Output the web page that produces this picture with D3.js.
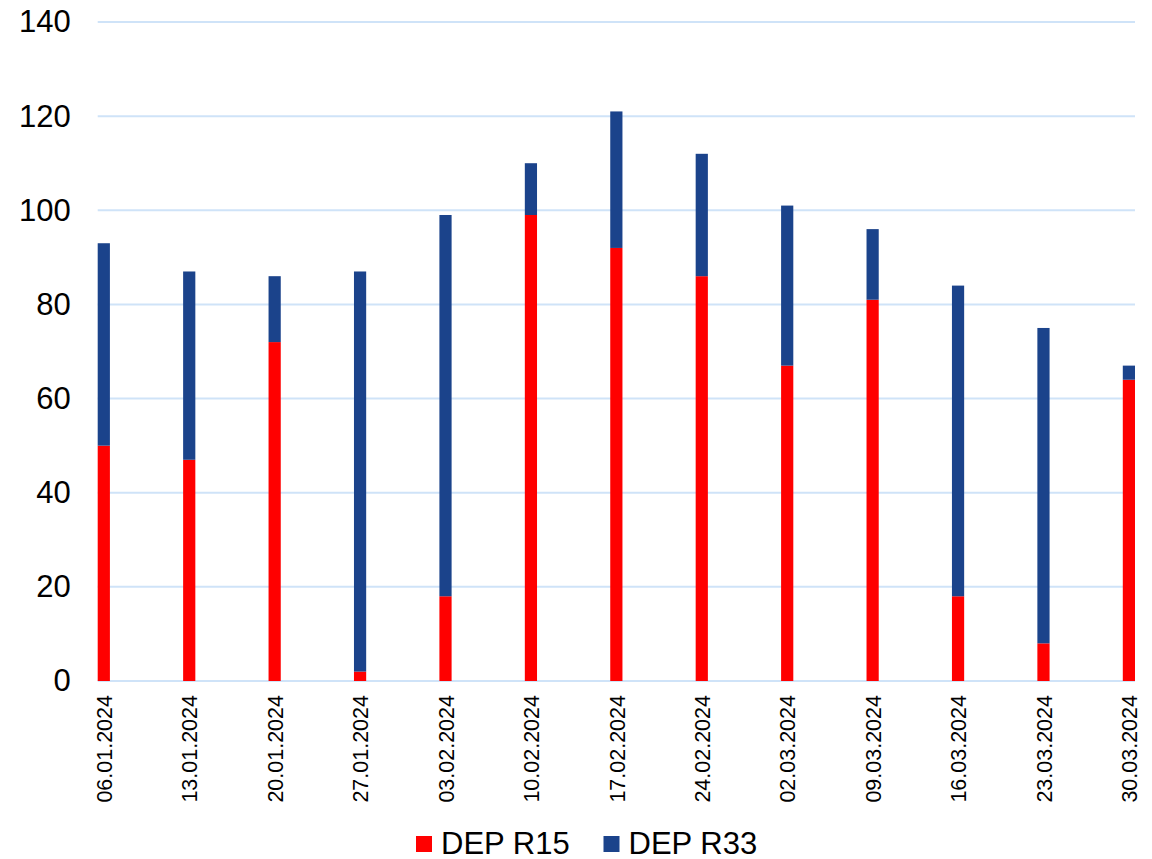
<!DOCTYPE html>
<html>
<head>
<meta charset="utf-8">
<script src="https://cdn.jsdelivr.net/npm/d3@7"></script>
<style>
  html, body { margin: 0; padding: 0; background: #fff; }
  svg { display: block; font-family: "Liberation Sans", Arial, sans-serif; }
</style>
</head>
<body>
<svg id="chart" width="1152" height="859"></svg>
<script>
// Weekly counts per department (week ending dates)
const weeks = ["06.01.2024", "13.01.2024", "20.01.2024", "27.01.2024", "03.02.2024", "10.02.2024",
               "17.02.2024", "24.02.2024", "02.03.2024", "09.03.2024", "16.03.2024", "23.03.2024", "30.03.2024"];
const depR15 = [50, 47, 72, 2, 18, 99, 92, 86, 67, 81, 18, 8, 64];
const depR33 = [43, 40, 14, 85, 81, 11, 29, 26, 34, 15, 66, 67, 3];
const seriesNames = ["DEP R15", "DEP R33"];
const yTicks = [0, 20, 40, 60, 80, 100, 120, 140];

const colors = ["#ff0000", "#1b438b"];
const gridColor = "#cfe3f8";

const parse = d3.utcParse("%d.%m.%Y");
const fmt = d3.utcFormat("%d.%m.%Y");
const dates = weeks.map(parse);
const rows = dates.map((d, i) => ({ date: d, "DEP R15": depR15[i], "DEP R33": depR33[i] }));

const plot = { left: 97.7, right: 1135, top: 22, bottom: 681 };
const svg = d3.select("#chart");

// Date axis: each bar spans one day, centred on its date
const halfDay = 12 * 3600 * 1000;
const x = d3.scaleUtc()
  .domain([new Date(+dates[0] - halfDay), new Date(+dates[dates.length - 1] + halfDay)])
  .range([plot.left, plot.right]);
const dayWidth = x(d3.utcDay.offset(dates[0], 1)) - x(dates[0]);

const y = d3.scaleLinear().domain([0, 140]).range([plot.bottom, plot.top]);

// Horizontal gridlines
svg.append("g")
  .selectAll("line")
  .data(yTicks)
  .join("line")
  .attr("x1", plot.left)
  .attr("x2", plot.right)
  .attr("y1", d => y(d))
  .attr("y2", d => y(d))
  .attr("stroke", gridColor)
  .attr("stroke-width", 2);

// Y axis labels
const yAxis = svg.append("g")
  .attr("transform", `translate(${plot.left},0)`)
  .call(d3.axisLeft(y).tickValues(yTicks).tickSize(0).tickPadding(27).tickFormat(d3.format("d")));
yAxis.select(".domain").remove();
yAxis.selectAll("text")
  .attr("font-size", 31)
  .attr("font-family", "Liberation Sans, Arial, sans-serif")
  .attr("fill", "#000");

// Stacked bars
const stack = d3.stack().keys(seriesNames);
const layers = stack(rows);

svg.append("g")
  .selectAll("g")
  .data(layers)
  .join("g")
  .attr("fill", (d, i) => colors[i])
  .selectAll("rect")
  .data(d => d)
  .join("rect")
  .attr("x", d => x(d.data.date) - dayWidth / 2)
  .attr("width", dayWidth)
  .attr("y", d => y(d[1]))
  .attr("height", d => y(d[0]) - y(d[1]));

// X axis labels (rotated dates)
const xAxis = svg.append("g")
  .attr("transform", `translate(0,${plot.bottom})`)
  .call(d3.axisBottom(x).tickValues(dates).tickSize(0).tickFormat(fmt));
xAxis.select(".domain").remove();
xAxis.selectAll("text")
  .attr("font-size", 21.5)
  .attr("font-family", "Liberation Sans, Arial, sans-serif")
  .attr("fill", "#000")
  .attr("text-anchor", "end")
  .attr("transform", "rotate(-90)")
  .attr("x", -14)
  .attr("y", 0)
  .attr("dy", "0.36em");

// Legend
const legendItems = [
  { name: seriesNames[0], color: colors[0], sx: 416, tx: 441 },
  { name: seriesNames[1], color: colors[1], sx: 603.5, tx: 628.5 }
];
const legend = svg.append("g");
legendItems.forEach(item => {
  legend.append("rect")
    .attr("x", item.sx)
    .attr("y", 836)
    .attr("width", 16)
    .attr("height", 16)
    .attr("fill", item.color);
  legend.append("text")
    .attr("x", item.tx)
    .attr("y", 853.5)
    .attr("font-size", 31)
    .attr("fill", "#000")
    .text(item.name);
});
</script>
</body>
</html>
